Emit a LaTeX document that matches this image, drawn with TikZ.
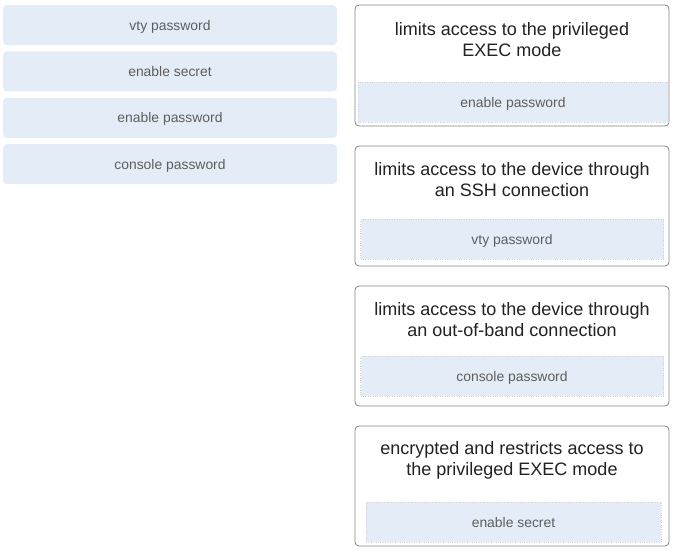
\documentclass[tikz,border=0pt]{standalone}
\usepackage{fontspec}
\setmainfont{Liberation Sans}
\usetikzlibrary{positioning}
\definecolor{optfill}{HTML}{E4ECF7}
\definecolor{opttext}{HTML}{5E5E5E}
\definecolor{cardline}{HTML}{858585}
\definecolor{prompttext}{HTML}{222222}
\begin{document}
\begin{tikzpicture}[x=1pt,y=-1pt,
				choice/.style={rectangle,rounded corners=4pt,fill=optfill,text=opttext,minimum width=334pt,minimum height=40pt,inner sep=0pt,text height=11pt,text depth=0.8pt,font=\fontsize{13.9}{16}\selectfont},
				card/.style={rectangle,rounded corners=4pt,draw=cardline,line width=0.8pt,fill=white,minimum width=314pt,minimum height=120pt,inner sep=0pt},
				prompt/.style={align=center,text=prompttext,inner sep=0pt,font=\fontsize{18}{21}\selectfont},
				slot/.style={rectangle,fill=optfill,draw=gray!35,dotted,text=opttext,minimum height=40pt,inner sep=0pt,text height=11pt,text depth=0.8pt,font=\fontsize{13.9}{16}\selectfont}]
\useasboundingbox (0,0) rectangle (675,552);
% answers to drag
\node[choice] (vty) at (170,25) {vty password};
\node[choice,below=6pt of vty] (secret) {enable secret};
\node[choice,below=6pt of secret] (enable) {enable password};
\node[choice,below=6pt of enable] (console) {console password};
% targets
\node[card,minimum height=121pt] (c1) at (512,65.5) {};
\node[prompt] (p1) at ([yshift=-34.5pt]c1.north) {limits access to the privileged\\EXEC mode};
\node[slot,minimum width=310pt] (s1) at ([xshift=1pt,yshift=24pt]c1.south) {enable password};

\node[card] (c2) at (512,206) {};
\node[prompt] (p2) at ([yshift=-33.5pt]c2.north) {limits access to the device through\\an SSH connection};
\node[slot,minimum width=303pt] (s2) at ([yshift=27pt]c2.south) {vty password};

\node[card] (c3) at (512,346) {};
\node[prompt] (p3) at ([yshift=-33.5pt]c3.north) {limits access to the device through\\an out-of-band connection};
\node[slot,minimum width=303pt] (s3) at ([yshift=30pt]c3.south) {console password};

\node[card] (c4) at (512,486) {};
\node[prompt] (p4) at ([yshift=-35pt]c4.north) {encrypted and restricts access to\\the privileged EXEC mode};
\node[slot,minimum width=295pt] (s4) at ([xshift=1.5pt,yshift=24.5pt]c4.south) {enable secret};
\end{tikzpicture}
\end{document}
